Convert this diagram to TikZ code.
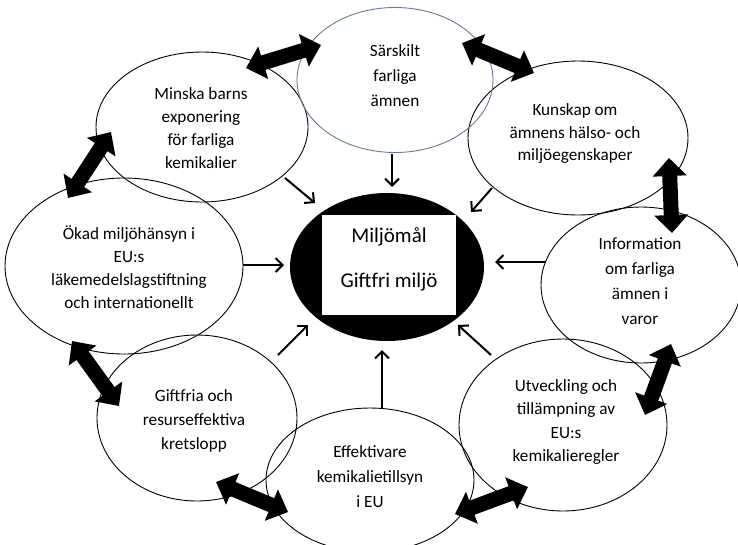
\documentclass[tikz,border=0pt]{standalone}
\usepackage{fontspec}
\setmainfont{Carlito}
\usetikzlibrary{shapes.geometric,arrows.meta}
\tikzset{
  bubble/.style={draw=black, line width=0.9pt, ellipse, inner sep=0pt},
  txt/.style={align=center, inner sep=0pt, font=\fontsize{17.2}{#1}\selectfont},
  txt/.default=23,
  thinarrow/.style={line width=2pt, -{Straight Barb[length=7pt,width=14pt,line width=2pt]}},
  bigarrow/.style={line width=15pt, {Triangle[length=18pt,width=33pt]}-{Triangle[length=18pt,width=33pt]}},
}
\begin{document}
\begin{tikzpicture}[x=1pt,y=-1pt]
\useasboundingbox (0,0) rectangle (738,544);
% ellipses
\node[bubble, minimum width=212pt, minimum height=150pt] (e8) at (202,127) {};
\node[bubble, minimum width=238pt, minimum height=176pt] (e7) at (124,266) {};
\node[bubble, minimum width=200pt, minimum height=166pt] (e6) at (197,418) {};
\node[bubble, minimum width=208pt, minimum height=144pt] (e5) at (370,480) {};
\node[bubble, minimum width=208pt, minimum height=172pt] (e4) at (563,425) {};
\node[bubble, minimum width=200pt, minimum height=156pt] (e3) at (641,285) {};
\node[bubble, minimum width=220pt, minimum height=154pt] (e2) at (578,138) {};
\node[bubble, draw={rgb,255:red,105;green,120;blue,150}, minimum width=196pt, minimum height=145pt] (e1) at (395,80) {};
% center
\node[ellipse, fill=black, inner sep=0pt, minimum width=194pt, minimum height=148pt] (c) at (387,267) {};
\node[fill=white, minimum width=134pt, minimum height=100pt, inner sep=0pt] (box) at (389,265) {};
\node[align=center, inner sep=0pt, font=\fontsize{21}{45}\selectfont] (ct) at (389,259) {Miljömål\\Giftfri miljö};
% texts
\node[txt=25] (t1) at (395,76) {Särskilt\\farliga\\ämnen};
\node[txt=22.5] (t2) at (575,134) {Kunskap om\\ämnens hälso- och\\miljöegenskaper};
\node[txt=25] (t3) at (640,281) {Information\\om farliga\\ämnen i\\varor};
\node[txt=23.3] (t4) at (566,422) {Utveckling och\\tillämpning av\\EU:s\\kemikalieregler};
\node[txt=25] (t5) at (370,477) {Effektivare\\kemikalietillsyn\\i EU};
\node[txt=24] (t6) at (194,421) {Giftfria och\\resurseffektiva\\kretslopp};
\node[txt=23] (t7) at (129,267) {Ökad miljöhänsyn i\\EU:s\\läkemedelslagstiftning\\och internationellt};
\node[txt=23] (t8) at (201,128) {Minska barns\\exponering\\för farliga\\kemikalier};
% thin arrow endpoints
\coordinate (s8) at (285,178); \coordinate (f8) at (315,203);
\coordinate (s1) at (392,154); \coordinate (f1) at (392,187);
\coordinate (s2) at (492,188); \coordinate (f2) at (471,212);
\coordinate (s3) at (546,262); \coordinate (f3) at (495,262);
\coordinate (s4) at (491,355); \coordinate (f4) at (458,325);
\coordinate (s5) at (382,409); \coordinate (f5) at (382,350);
\coordinate (s6) at (278,355); \coordinate (f6) at (308,325);
\coordinate (s7) at (243,265); \coordinate (f7) at (284,265);
\foreach \i in {1,...,8} { \draw[thinarrow] (s\i) -- (f\i); }
% thick double arrows
\coordinate (a1) at (246,68);  \coordinate (b1) at (321,45);
\coordinate (a2) at (462,43);  \coordinate (b2) at (534,73);
\coordinate (a3) at (669,158); \coordinate (b3) at (672,233);
\coordinate (a4) at (671,344); \coordinate (b4) at (645,415);
\coordinate (a5) at (528,487); \coordinate (b5) at (455,514);
\coordinate (a6) at (288,512); \coordinate (b6) at (216,482);
\coordinate (a7) at (119,406); \coordinate (b7) at (72,341);
\coordinate (a8) at (68,198);  \coordinate (b8) at (111,132);
\foreach \i in {1,...,8} { \draw[bigarrow] (a\i) -- (b\i); }
\end{tikzpicture}
\end{document}
